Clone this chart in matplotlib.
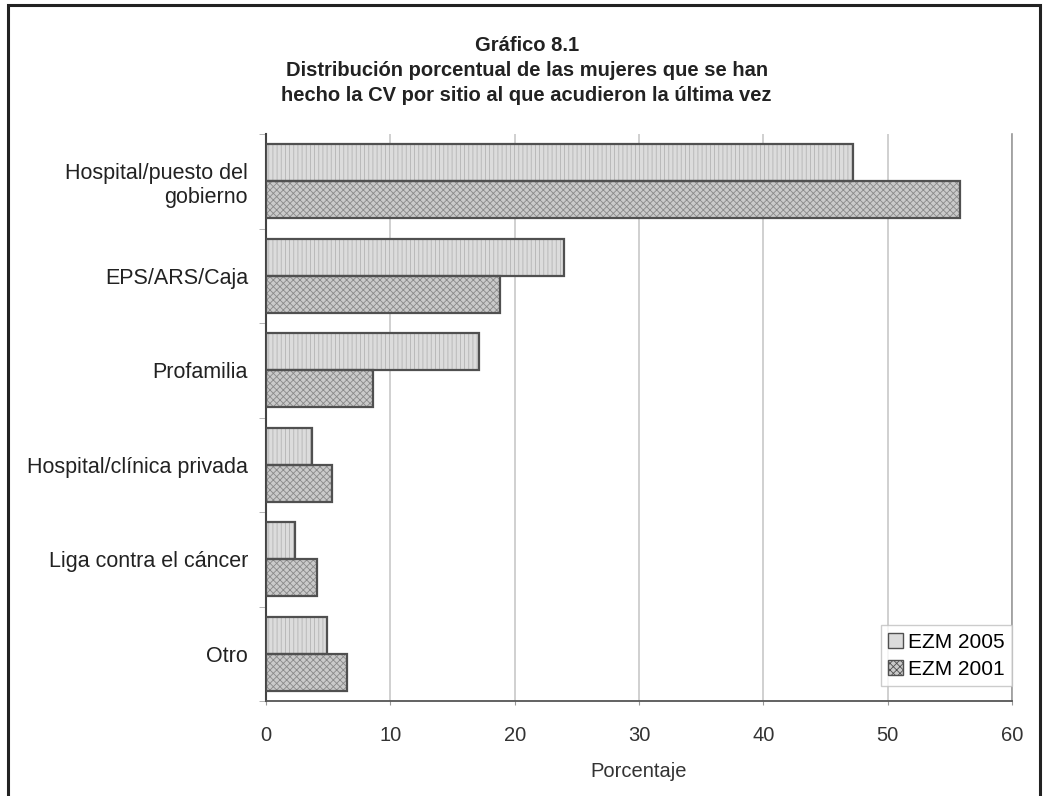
import matplotlib.pyplot as plt
from matplotlib.patches import Patch, Rectangle
from matplotlib.ticker import FixedLocator

plt.rcParams['font.family'] = ['Liberation Sans', 'DejaVu Sans']
plt.rcParams['hatch.linewidth'] = 0.6

categories = ['Hospital/puesto del\ngobierno', 'EPS/ARS/Caja', 'Profamilia',
              'Hospital/clínica privada', 'Liga contra el cáncer', 'Otro']
ezm_2005 = [47.2, 24.0, 17.1, 3.7, 2.3, 4.9]
ezm_2001 = [55.8, 18.8, 8.6, 5.3, 4.1, 6.5]
x_ticks = [0, 10, 20, 30, 40, 50, 60]

fig = plt.figure(figsize=(10.45, 7.96), dpi=100)
ax = fig.add_axes([0.2545, 0.1193, 0.7139, 0.7123])

pos = list(range(len(categories)))
h = 0.39
y05 = [p - h / 2 for p in pos]
y01 = [p + h / 2 for p in pos]

# relleno con textura
ax.barh(y05, ezm_2005, height=h, color='#dcdcdc', edgecolor='#b4b4b4',
        hatch='||||', linewidth=0, zorder=2)
ax.barh(y01, ezm_2001, height=h, color='#cacaca', edgecolor='#8a8a8a',
        hatch='xxxxx', linewidth=0, zorder=2)
# bordes
ax.barh(y05, ezm_2005, height=h, fill=False, edgecolor='#505050', linewidth=1.6, zorder=3)
ax.barh(y01, ezm_2001, height=h, fill=False, edgecolor='#505050', linewidth=1.6, zorder=3)

ax.set_xlim(0, 60)
ax.set_ylim(len(categories) - 0.5, -0.5)
ax.set_xticks(x_ticks)
ax.set_yticks(pos)
ax.set_yticklabels(categories, fontsize=15.5, color='#222222', multialignment='right')
ax.yaxis.set_minor_locator(FixedLocator([p - 0.5 for p in pos] + [len(pos) - 0.5]))
ax.tick_params(axis='x', labelsize=14.5, labelcolor='#333333', length=3,
               color='#999999', pad=15)
ax.tick_params(axis='y', which='major', length=0, pad=13)
ax.tick_params(axis='y', which='minor', length=5, color='#aaaaaa', direction='out')
ax.grid(axis='x', color='#c8c8c8', linewidth=1.2, zorder=0)
ax.spines['top'].set_visible(False)
ax.spines['right'].set_color('#999999')
ax.spines['right'].set_linewidth(1.2)
ax.spines['bottom'].set_color('#555555')
ax.spines['bottom'].set_linewidth(1.3)
ax.spines['left'].set_color('#444444')
ax.spines['left'].set_linewidth(1.5)

ax.set_xlabel('Porcentaje', fontsize=14.5, color='#333333', labelpad=12)

handles = [Patch(facecolor='#dcdcdc', edgecolor='#505050', label='EZM 2005'),
           Patch(facecolor='#cacaca', edgecolor='#505050', hatch='xxxxx', label='EZM 2001')]
leg = ax.legend(handles=handles, loc='lower right', fontsize=15, frameon=True,
                fancybox=False, edgecolor='#c0c0c0', handlelength=0.7, handleheight=0.7,
                handletextpad=0.25, borderpad=0.35, labelspacing=0.4,
                bbox_to_anchor=(1.0, 0.026), borderaxespad=0)
leg.get_frame().set_linewidth(1.0)

fig.text(0.504, 0.912, 'Gráfico 8.1\nDistribución porcentual de las mujeres que se han\n'
         'hecho la CV por sitio al que acudieron la última vez',
         ha='center', va='center', fontsize=14.5, fontweight='bold', color='#222222',
         linespacing=1.4)

fig.patches.append(Rectangle((8 / 1045, -0.05), 1032 / 1045, 1 - 5 / 796 + 0.05,
                             transform=fig.transFigure, fill=False,
                             edgecolor='#222222', linewidth=2.2))

plt.savefig('out.png', dpi=100)
